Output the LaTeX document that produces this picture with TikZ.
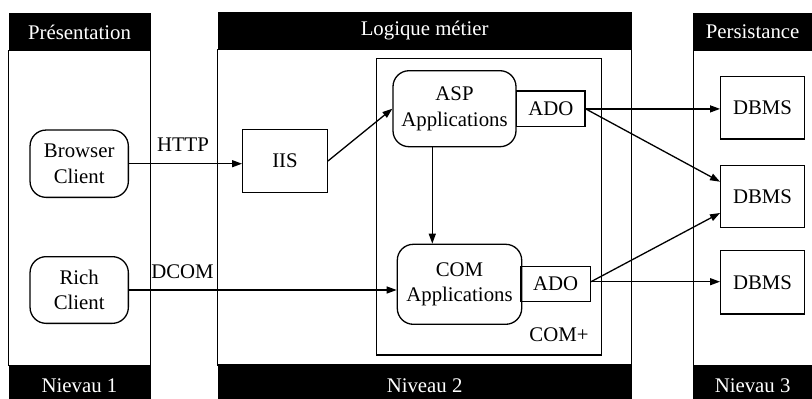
\documentclass[tikz,border=0pt]{standalone}
\usepackage{fontspec}
\setmainfont{Liberation Serif}
\usetikzlibrary{arrows.meta,calc}
\begin{document}
\begin{tikzpicture}[x=1pt,y=-1pt,
  every node/.style={font=\fontsize{20.8}{25.5}\selectfont, inner sep=0pt},
  line/.style={line width=1.3pt},
  arr/.style={line width=1.3pt,-{Triangle[length=10pt,width=7pt]}},
  rbox/.style={draw,line width=1.3pt,rounded corners=16pt,align=center},
  sbox/.style={draw,line width=1.3pt,align=center},
  hdr/.style={fill=black},
  htext/.style={text=white},
  lbl/.style={}
]
\useasboundingbox (0,0) rectangle (812,399);
% panels
\fill[hdr] (8.5,13.3) rectangle (150.5,50.7);
\draw[line] (8.5,50.7) rectangle (150.5,365.5);
\fill[hdr] (8.5,365.5) rectangle (150.5,399);
\node[htext] (h1) at (79.5,32) {Présentation};
\node[htext] (f1) at (79.5,386) {Nievau 1};

\fill[hdr] (217.5,12) rectangle (631.7,49.5);
\draw[line] (217.5,49.5) rectangle (631.7,365);
\fill[hdr] (217.5,365) rectangle (631.7,399);
\node[htext] (h2) at (424.6,31) {Logique métier};
\node[htext] (f2) at (424.6,386) {Niveau 2};

\fill[hdr] (693.3,13.3) rectangle (812,50.7);
\draw[line] (693.3,50.7) -- (693.3,365);
\fill[hdr] (693.3,365) rectangle (812,399);
\node[htext] (h3) at (752.6,32) {Persistance};
\node[htext] (f3) at (752.6,386) {Nievau 3};

% COM+ box
\draw[line] (376.7,58.7) rectangle (601.7,355);
\node[lbl] (complus) at (559,335) {COM+};

% nodes
\node[rbox,minimum width=98.3pt,minimum height=67.3pt] (browser) at (79.2,163.7) {Browser\\Client};
\node[rbox,minimum width=98.3pt,minimum height=66.7pt] (rich) at (79.2,290) {Rich\\Client};
\node[sbox,minimum width=84.6pt,minimum height=63.4pt] (iis) at (285,161) {IIS};
\node[rbox,minimum width=123pt,minimum height=76pt] (asp) at (454.5,108.7) {ASP\\Applications};
\node[sbox,minimum width=68.3pt,minimum height=35.7pt] (ado1) at (550.9,108.9) {ADO};
\node[rbox,minimum width=124.4pt,minimum height=80pt] (com) at (459.5,284.3) {COM\\Applications};
\node[sbox,minimum width=69.3pt,minimum height=35pt] (ado2) at (555.7,284.2) {ADO};
\node[sbox,minimum width=83.6pt,minimum height=62.3pt] (db1) at (762.5,107.9) {DBMS};
\node[sbox,minimum width=83.6pt,minimum height=62pt] (db2) at (762.5,196.7) {DBMS};
\node[sbox,minimum width=83.6pt,minimum height=63.3pt] (db3) at (762.5,282.3) {DBMS};

% labels
\node (http) at (183,145) {HTTP};
\node (dcom) at (182.5,272) {DCOM};

% connectors
\coordinate (vx) at (432.3,0);
\draw[arr] (browser.east) -- (browser.east -| iis.west);
\draw[arr] (iis.east) -- (asp.west);
\draw[arr] (asp.south -| vx) -- (com.north -| vx);
\draw[arr] (rich.east) -- (rich.east -| com.west);
\draw[arr] (ado1.east) -- (ado1.east -| db1.west);
\draw[arr] (ado1.east) -- ($(db2.west)+(0,-15)$);
\draw[arr] ($(ado2.east)+(0,-2.5)$) -- ($(db2.west)+(0,16.3)$);
\draw[arr] ($(ado2.east)+(0,-2.5)$) -- ($(ado2.east -| db3.west)+(0,-2.5)$);
\end{tikzpicture}
\end{document}
